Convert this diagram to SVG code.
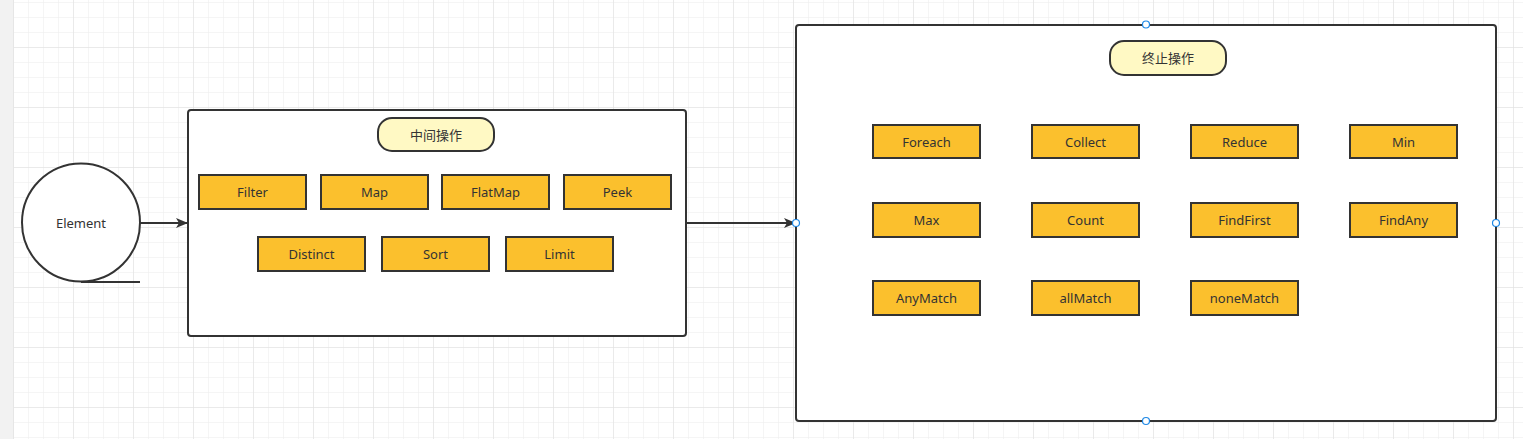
<svg xmlns="http://www.w3.org/2000/svg" width="1523" height="439" viewBox="0 0 1523 439">
<defs>
<pattern id="minor" x="13" y="2" width="15" height="15" patternUnits="userSpaceOnUse">
<path d="M0 0V15M0 0H15" fill="none" stroke="#ececec" stroke-width="1"/>
</pattern>
<pattern id="major" x="13" y="47" width="60" height="60" patternUnits="userSpaceOnUse">
<path d="M0 0V60M0 0H60" fill="none" stroke="#e0e0e0" stroke-width="1"/>
</pattern>
<marker id="arr" markerWidth="12" markerHeight="10" refX="11" refY="5" orient="auto" markerUnits="userSpaceOnUse">
<path d="M0 0L12 5L0 10L3 5Z" fill="#333"/>
</marker>
</defs>
<style>
text{font-family:"Noto Sans","Noto Sans CJK SC",sans-serif;font-size:13px;fill:#333;text-anchor:middle;dominant-baseline:central}
.box{fill:#fbc02d;stroke:#333;stroke-width:2}
.cont{fill:#fff;stroke:#333;stroke-width:2}
.pill{fill:#fff9c4;stroke:#333;stroke-width:2}
.h{fill:#fff;stroke:#1e88e5;stroke-width:1.2}
.ln{fill:none;stroke:#333;stroke-width:2}
</style>
<rect width="1523" height="439" fill="#fff"/>
<rect x="13" y="0" width="1510" height="439" fill="url(#minor)"/>
<rect x="13" y="0" width="1510" height="439" fill="url(#major)"/>
<rect x="0" y="0" width="13" height="439" fill="#f2f2f2"/>
<line x1="13.5" y1="0" x2="13.5" y2="439" stroke="#e6e6e6"/>

<g id="element">
<circle cx="81" cy="222.5" r="59" fill="#fff" stroke="#333" stroke-width="2"/>
<line x1="81" y1="282" x2="140" y2="282" class="ln"/>
<text x="81" y="223">Element</text>
</g>

<g id="intermediate">
<rect x="188" y="110" width="498" height="226" rx="3" class="cont"/>
<rect x="378" y="118" width="116" height="33" rx="14" class="pill"/>
<text x="436" y="134.5">中间操作</text>
</g>
<g id="filter"><rect x="199" y="175" width="107" height="34" class="box"/><text x="252.5" y="192">Filter</text></g>
<g id="map"><rect x="321" y="175" width="107" height="34" class="box"/><text x="374.5" y="192">Map</text></g>
<g id="flatmap"><rect x="442" y="175" width="107" height="34" class="box"/><text x="495.5" y="192">FlatMap</text></g>
<g id="peek"><rect x="564" y="175" width="107" height="34" class="box"/><text x="617.5" y="192">Peek</text></g>
<g id="distinct"><rect x="258" y="237" width="107" height="34" class="box"/><text x="311.5" y="254">Distinct</text></g>
<g id="sort"><rect x="382" y="237" width="107" height="34" class="box"/><text x="435.5" y="254">Sort</text></g>
<g id="limit"><rect x="506" y="237" width="107" height="34" class="box"/><text x="559.5" y="254">Limit</text></g>

<g id="terminal">
<rect x="796" y="25" width="700" height="396" rx="3" class="cont"/>
<rect x="1110" y="41" width="116" height="34" rx="14" class="pill"/>
<text x="1168" y="58">终止操作</text>
</g>
<g id="foreach"><rect x="873" y="125" width="107" height="33" class="box"/><text x="926.5" y="141.5">Foreach</text></g>
<g id="collect"><rect x="1032" y="125" width="107" height="33" class="box"/><text x="1085.5" y="141.5">Collect</text></g>
<g id="reduce"><rect x="1191" y="125" width="107" height="33" class="box"/><text x="1244.5" y="141.5">Reduce</text></g>
<g id="min"><rect x="1350" y="125" width="107" height="33" class="box"/><text x="1403.5" y="141.5">Min</text></g>
<g id="max"><rect x="873" y="203" width="107" height="34" class="box"/><text x="926.5" y="220">Max</text></g>
<g id="count"><rect x="1032" y="203" width="107" height="34" class="box"/><text x="1085.5" y="220">Count</text></g>
<g id="findfirst"><rect x="1191" y="203" width="107" height="34" class="box"/><text x="1244.5" y="220">FindFirst</text></g>
<g id="findany"><rect x="1350" y="203" width="107" height="34" class="box"/><text x="1403.5" y="220">FindAny</text></g>
<g id="anymatch"><rect x="873" y="281" width="107" height="34" class="box"/><text x="926.5" y="298">AnyMatch</text></g>
<g id="allmatch"><rect x="1032" y="281" width="107" height="34" class="box"/><text x="1085.5" y="298">allMatch</text></g>
<g id="nonematch"><rect x="1191" y="281" width="107" height="34" class="box"/><text x="1244.5" y="298">noneMatch</text></g>

<g id="connectors">
<line x1="140" y1="223" x2="187" y2="223" class="ln" marker-end="url(#arr)"/>
<line x1="687" y1="223" x2="795" y2="223" class="ln" marker-end="url(#arr)"/>
</g>

<g id="handles">
<circle cx="1146" cy="24.5" r="3.5" class="h"/>
<circle cx="796" cy="223" r="3.5" class="h"/>
<circle cx="1496" cy="223" r="3.5" class="h"/>
<circle cx="1146" cy="421" r="3.5" class="h"/>
</g>
</svg>
